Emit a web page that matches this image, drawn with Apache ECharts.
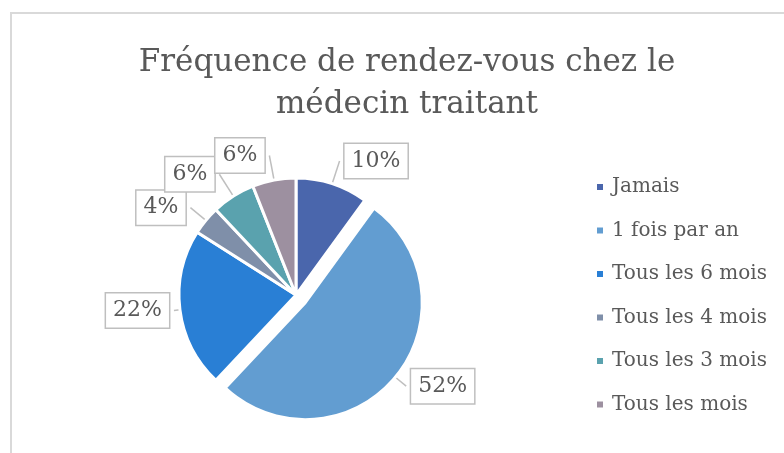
<!DOCTYPE html>
<html>
<head>
<meta charset="utf-8">
<script src="https://cdn.jsdelivr.net/npm/echarts@6/dist/echarts.min.js"></script>
<style>
  html, body { margin: 0; padding: 0; background: #fff; }
  #main { width: 784px; height: 453px; }
</style>
</head>
<body>
<div id="main"></div>
<script>
// données
var categories = ['Jamais', '1 fois par an', 'Tous les 6 mois', 'Tous les 4 mois', 'Tous les 3 mois', 'Tous les mois'];
var values = [10, 52, 22, 4, 6, 6];
var colors = ['#4a66ac', '#629dd1', '#297fd5', '#7f8fa9', '#5aa2ae', '#9d90a0'];
// longueur des traits de renvoi des étiquettes
var lineLen = [24, 14, 6, 20, 26, 25];

var myChart = echarts.init(document.getElementById('main'));

var font = '"DejaVu Serif", "Liberation Serif", serif';

var option = {
  backgroundColor: '#fff',
  color: colors,
  textStyle: { fontFamily: font },
  graphic: [{
    type: 'rect',
    shape: { x: 11, y: 13, width: 900, height: 600 },
    style: { fill: 'none', stroke: '#d9d9d9', lineWidth: 2 },
    silent: true
  }],
  title: {
    text: 'Fréquence de rendez-vous chez le\nmédecin traitant',
    left: 402,
    top: 37,
    textAlign: 'center',
    textStyle: {
      fontFamily: font,
      fontSize: 31,
      fontWeight: 'normal',
      color: '#595959',
      lineHeight: 42
    }
  },
  legend: {
    orient: 'vertical',
    left: 590,
    top: 172,
    itemWidth: 8,
    itemHeight: 8,
    itemGap: 23.5,
    icon: 'rect',
    data: categories,
    textStyle: { fontFamily: font, fontSize: 20, color: '#595959', padding: [0, 0, 0, 3] }
  },
  series: [{
    type: 'pie',
    center: [296, 295],
    radius: [0, 117],
    startAngle: 90,
    clockwise: true,
    selectedMode: 'single',
    selectedOffset: 12,
    avoidLabelOverlap: false,
    labelLayout: { hideOverlap: false },
    itemStyle: { borderColor: '#fff', borderWidth: 3 },
    label: {
      show: true,
      position: 'outside',
      formatter: '{d}%',
      fontFamily: font,
      fontSize: 22,
      color: '#595959',
      backgroundColor: '#fff',
      borderColor: '#bfbfbf',
      borderWidth: 1.5,
      padding: [7, 7, 5, 7]
    },
    labelLine: {
      show: true,
      lineStyle: { color: '#bfbfbf', width: 1.5 }
    },
    data: categories.map(function (name, i) {
      return {
        name: name,
        value: values[i],
        selected: i === 1,
        labelLine: { length: lineLen[i], length2: 0 }
      };
    })
  }]
};

myChart.setOption(option);
</script>
</body>
</html>
